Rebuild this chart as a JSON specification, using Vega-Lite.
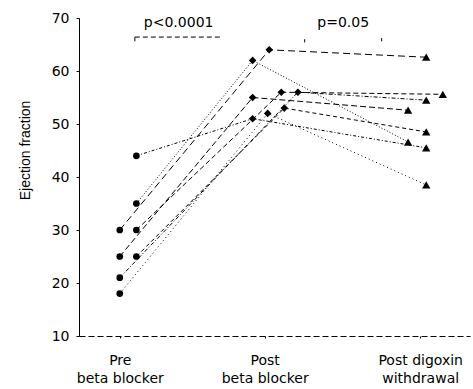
{
  "$schema": "https://vega.github.io/schema/vega-lite/v6.json",
  "width": 391,
  "height": 318,
  "autosize": "none",
  "padding": {"left": 79, "top": 18, "right": 3, "bottom": 53},
  "background": "white",
  "config": {
    "view": {"stroke": null},
    "font": "DejaVu Sans",
    "axis": {"grid": false, "labelColor": "black", "titleColor": "black", "domainColor": "black", "tickColor": "black", "labelFont": "DejaVu Sans", "titleFont": "Liberation Sans"}
  },
  "datasets": {
    "pts": [
      {"patient": "p1", "stage": "pre", "x": 1.0, "y": 30},
      {"patient": "p1", "stage": "post", "x": 1.99, "y": 64},
      {"patient": "p1", "stage": "dig", "x": 3.03, "y": 62.6},
      {"patient": "p2", "stage": "pre", "x": 1.11, "y": 35},
      {"patient": "p2", "stage": "post", "x": 1.88, "y": 62},
      {"patient": "p2", "stage": "dig", "x": 2.91, "y": 46.6},
      {"patient": "p3", "stage": "pre", "x": 1.0, "y": 25},
      {"patient": "p3", "stage": "post", "x": 1.88, "y": 55},
      {"patient": "p3", "stage": "dig", "x": 2.91, "y": 52.6},
      {"patient": "p4", "stage": "pre", "x": 1.11, "y": 30},
      {"patient": "p4", "stage": "post", "x": 2.07, "y": 56},
      {"patient": "p4", "stage": "dig", "x": 3.14, "y": 55.6},
      {"patient": "p5", "stage": "pre", "x": 1.0, "y": 21},
      {"patient": "p5", "stage": "post", "x": 2.18, "y": 56},
      {"patient": "p5", "stage": "dig", "x": 3.03, "y": 54.5},
      {"patient": "p6", "stage": "pre", "x": 1.11, "y": 25},
      {"patient": "p6", "stage": "post", "x": 2.09, "y": 53},
      {"patient": "p6", "stage": "dig", "x": 3.03, "y": 48.5},
      {"patient": "p7", "stage": "pre", "x": 1.0, "y": 18},
      {"patient": "p7", "stage": "post", "x": 1.98, "y": 52},
      {"patient": "p7", "stage": "dig", "x": 3.03, "y": 38.5},
      {"patient": "p8", "stage": "pre", "x": 1.11, "y": 44},
      {"patient": "p8", "stage": "post", "x": 1.88, "y": 51},
      {"patient": "p8", "stage": "dig", "x": 3.03, "y": 45.5}
    ],
    "notes": [
      {"x": 1.39, "y": 69.1, "label": "p<0.0001"},
      {"x": 2.48, "y": 69.1, "label": "p=0.05"}
    ],
    "brackets": [
      {"x": 1.10, "x2": 1.68, "y": 66.4, "y2": 66.4},
      {"x": 1.10, "x2": 1.10, "y": 66.4, "y2": 65.6},
      {"x": 2.225, "x2": 2.225, "y": 66.0, "y2": 65.4},
      {"x": 2.735, "x2": 2.735, "y": 66.2, "y2": 65.6}
    ]
  },
  "layer": [
    {
      "data": {"name": "pts"},
      "mark": {"type": "line", "color": "black", "strokeWidth": 1},
      "encoding": {
        "x": {
          "field": "x", "type": "quantitative",
          "scale": {"domain": [0.73, 3.32], "nice": false, "zero": false},
          "axis": {
            "values": [1, 1.96, 2.99],
            "title": null,
            "labelFontSize": 14,
            "labelPadding": 15,
            "labelLineHeight": 18,
            "tickSize": 2,
            "domainDash": [6, 3],
            "labelExpr": "datum.value < 1.5 ? ['Pre', 'beta blocker'] : (datum.value < 2.5 ? ['Post', 'beta blocker'] : ['Post digoxin', 'withdrawal'])"
          }
        },
        "y": {
          "field": "y", "type": "quantitative",
          "scale": {"domain": [10, 70], "nice": false, "zero": false},
          "axis": {
            "values": [10, 20, 30, 40, 50, 60, 70],
            "title": "Ejection fraction",
            "titleFontSize": 14,
            "titleFontWeight": "normal",
            "titleX": -54,
            "titleY": 132,
            "titleAlign": "center",
            "titleBaseline": "middle",
            "titleAngle": -90,
            "labelFontSize": 14,
            "labelPadding": 7,
            "tickSize": 3
          }
        },
        "detail": {"field": "patient"},
        "strokeDash": {
          "field": "patient", "type": "nominal", "legend": null,
          "scale": {"range": [[7, 4], [1, 2], [6, 3], [5, 3], [4, 2, 1, 2], [4, 3], [1, 3], [3, 2, 1, 2]]}
        },
        "order": {"field": "x", "type": "quantitative"}
      }
    },
    {
      "data": {"name": "pts"},
      "mark": {"type": "point", "filled": true, "color": "black", "opacity": 1},
      "encoding": {
        "x": {"field": "x", "type": "quantitative"},
        "y": {"field": "y", "type": "quantitative"},
        "shape": {
          "field": "stage", "type": "nominal", "legend": null,
          "scale": {"domain": ["pre", "post", "dig"], "range": ["circle", "diamond", "triangle-up"]}
        },
        "size": {
          "field": "stage", "type": "nominal", "legend": null,
          "scale": {"domain": ["pre", "post", "dig"], "range": [45, 70, 70]}
        }
      }
    },
    {
      "data": {"name": "notes"},
      "mark": {"type": "text", "fontSize": 14, "color": "black", "align": "center", "baseline": "middle"},
      "encoding": {
        "x": {"field": "x", "type": "quantitative"},
        "y": {"field": "y", "type": "quantitative"},
        "text": {"field": "label"}
      }
    },
    {
      "data": {"name": "brackets"},
      "mark": {"type": "rule", "color": "black", "strokeWidth": 1, "strokeDash": [5, 3]},
      "encoding": {
        "x": {"field": "x", "type": "quantitative"},
        "x2": {"field": "x2"},
        "y": {"field": "y", "type": "quantitative"},
        "y2": {"field": "y2"}
      }
    }
  ]
}
